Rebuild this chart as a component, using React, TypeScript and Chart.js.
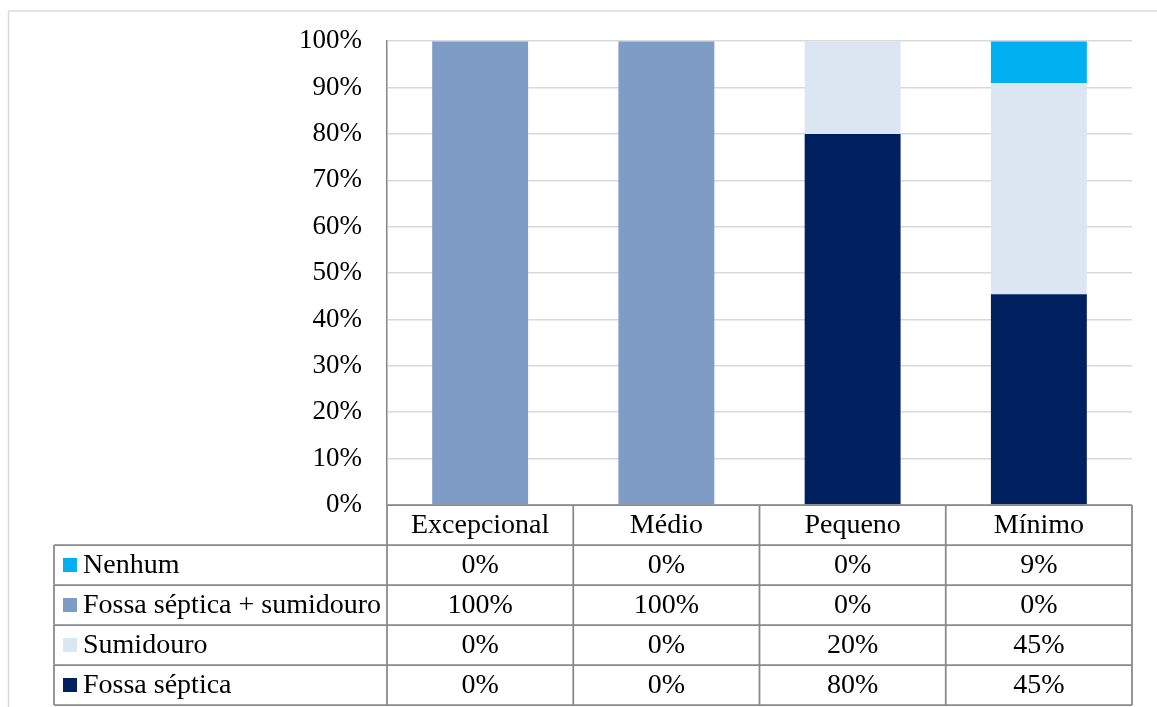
import React, { useEffect, useRef } from "react";
import { Chart, registerables } from "chart.js";

Chart.register(...registerables);

// Categories and the shares shown in the data table (percent)
const categories = ["Excepcional", "Médio", "Pequeno", "Mínimo"];
const fossaSeptica = [0, 0, 80, 45];
const sumidouro = [0, 0, 20, 45];
const fossaSumidouro = [100, 100, 0, 0];
const nenhum = [0, 0, 0, 9];
const yTickValues = [0, 10, 20, 30, 40, 50, 60, 70, 80, 90, 100];

const seriesNames = {
  nenhum: "Nenhum",
  fossaSumidouro: "Fossa séptica + sumidouro",
  sumidouro: "Sumidouro",
  fossaSeptica: "Fossa séptica",
};

const colors = {
  nenhum: "#00b0f0",
  fossaSumidouro: "#7f9cc7",
  sumidouro: "#dce6f2",
  fossaSeptica: "#002060",
};

const FAMILY = '"Liberation Serif", "Times New Roman", serif';
const TABLE_FONT = `28px ${FAMILY}`;

// 100% stacked: each column is scaled to its own total
const totals = categories.map(
  (_, i) => fossaSeptica[i] + sumidouro[i] + fossaSumidouro[i] + nenhum[i]
);
const share = (arr: number[]) => arr.map((v, i) => (totals[i] ? (v / totals[i]) * 100 : 0));

// rows of the data table, top to bottom
const tableRows = [
  { name: seriesNames.nenhum, color: colors.nenhum, values: nenhum },
  { name: seriesNames.fossaSumidouro, color: colors.fossaSumidouro, values: fossaSumidouro },
  { name: seriesNames.sumidouro, color: colors.sumidouro, values: sumidouro },
  { name: seriesNames.fossaSeptica, color: colors.fossaSeptica, values: fossaSeptica },
];

const frameAndTable = {
  id: "frameAndTable",
  beforeDraw(chart: any) {
    const { ctx, width, height } = chart;
    ctx.save();
    ctx.fillStyle = "#ffffff";
    ctx.fillRect(0, 0, width, height);
    ctx.strokeStyle = "#d9d9d9";
    ctx.lineWidth = 1.5;
    ctx.beginPath();
    ctx.moveTo(8.5, height);
    ctx.lineTo(8.5, 11);
    ctx.lineTo(width, 11);
    ctx.stroke();
    ctx.restore();
  },
  afterDraw(chart: any) {
    const { ctx, chartArea } = chart;
    const left = chartArea.left;
    const right = chartArea.right;
    const top = chartArea.bottom;
    const rowH = 40;
    const tableLeft = 54;
    const colW = (right - left) / categories.length;
    const bottom = top + rowH * (tableRows.length + 1);

    ctx.save();
    ctx.strokeStyle = "#898989";
    ctx.lineWidth = 1.75;
    ctx.beginPath();
    // header row top
    ctx.moveTo(left, top);
    ctx.lineTo(right, top);
    // body horizontal lines
    for (let r = 1; r <= tableRows.length + 1; r++) {
      const y = top + r * rowH;
      ctx.moveTo(tableLeft, y);
      ctx.lineTo(right, y);
    }
    // verticals
    ctx.moveTo(tableLeft, top + rowH);
    ctx.lineTo(tableLeft, bottom);
    for (let c = 0; c <= categories.length; c++) {
      const x = left + c * colW;
      ctx.moveTo(x, top);
      ctx.lineTo(x, bottom);
    }
    ctx.stroke();

    ctx.font = TABLE_FONT;
    ctx.fillStyle = "#000000";
    ctx.textBaseline = "middle";
    ctx.textAlign = "center";
    categories.forEach((cat, c) => {
      ctx.fillText(cat, left + (c + 0.5) * colW, top + rowH / 2 + 1);
    });

    tableRows.forEach((row, r) => {
      const yMid = top + (r + 1) * rowH + rowH / 2 + 1;
      ctx.fillStyle = row.color;
      ctx.fillRect(63, yMid - 8, 14, 14);
      ctx.fillStyle = "#000000";
      ctx.textAlign = "left";
      ctx.fillText(row.name, 83, yMid);
      ctx.textAlign = "center";
      row.values.forEach((v, c) => {
        ctx.fillText(`${v}%`, left + (c + 0.5) * colW, yMid);
      });
    });
    ctx.restore();
  },
};

export default function App() {
  const canvasRef = useRef<HTMLCanvasElement | null>(null);

  useEffect(() => {
    document.body.style.margin = "0";
    const canvas = canvasRef.current;
    if (!canvas) return;
    const chart = new Chart(canvas, {
      type: "bar",
      data: {
        labels: categories,
        datasets: [
          { label: seriesNames.fossaSeptica, data: share(fossaSeptica), backgroundColor: colors.fossaSeptica },
          { label: seriesNames.sumidouro, data: share(sumidouro), backgroundColor: colors.sumidouro },
          { label: seriesNames.fossaSumidouro, data: share(fossaSumidouro), backgroundColor: colors.fossaSumidouro },
          { label: seriesNames.nenhum, data: share(nenhum), backgroundColor: colors.nenhum },
        ],
      },
      options: {
        responsive: false,
        animation: false,
        devicePixelRatio: 1,
        layout: { padding: { left: 0, right: 25, top: 41, bottom: 202 } },
        datasets: { bar: { barPercentage: 0.515, categoryPercentage: 1, borderWidth: 0 } },
        plugins: { legend: { display: false }, tooltip: { enabled: false } },
        scales: {
          x: { stacked: true, display: false },
          y: {
            stacked: true,
            min: 0,
            max: 100,
            afterFit(scale: any) {
              scale.width = 387;
            },
            afterBuildTicks(scale: any) {
              scale.ticks = yTickValues.map((v) => ({ value: v }));
            },
            ticks: {
              padding: 25,
              color: "#000000",
              font: { family: FAMILY, size: 27 },
              callback: (v: any) => `${v}%`,
            },
            grid: { color: "#d9d9d9", lineWidth: 1.5, drawTicks: false },
            border: { display: true, color: "#868686", width: 1.5 },
          },
        },
      },
      plugins: [frameAndTable],
    });
    return () => chart.destroy();
  }, []);

  return (
    <div style={{ position: "absolute", left: 0, top: 0, width: 1157, height: 707 }}>
      <canvas ref={canvasRef} width={1157} height={707} style={{ display: "block" }} />
    </div>
  );
}
